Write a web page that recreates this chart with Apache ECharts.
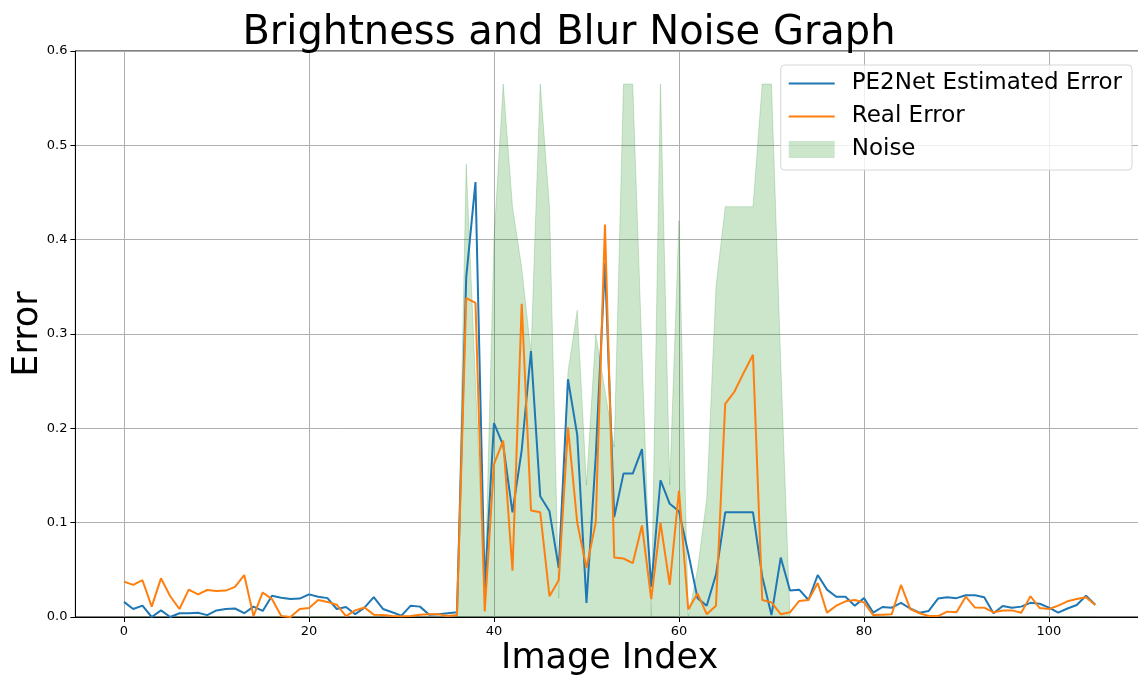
<!DOCTYPE html>
<html>
<head>
<meta charset="utf-8">
<script src="https://cdn.jsdelivr.net/npm/echarts@6/dist/echarts.min.js"></script>
<style>
  html, body { margin: 0; padding: 0; background: #fff; }
  #chart { width: 1138px; height: 680px; }
</style>
</head>
<body>
<div id="chart"></div>
<script>
// values, index 0..105
var estimatedError = [
  0.016, 0.0085, 0.012, 0.0, 0.007, 0.0, 0.004, 0.004, 0.0045, 0.002,
  0.007, 0.0085, 0.009, 0.004, 0.011, 0.0064, 0.0226, 0.0205, 0.019, 0.0195,
  0.024, 0.0215, 0.020, 0.0085, 0.0106, 0.003, 0.010, 0.021, 0.0085, 0.005,
  0.0014, 0.012, 0.011, 0.0025, 0.003, 0.004, 0.005, 0.36, 0.461, 0.03,
  0.2055, 0.182, 0.111, 0.177, 0.282, 0.128, 0.112, 0.052, 0.252, 0.193,
  0.015, 0.17, 0.375, 0.106, 0.152, 0.152, 0.178, 0.032, 0.145, 0.12,
  0.112, 0.068, 0.02, 0.012, 0.045, 0.111, 0.111, 0.111, 0.111, 0.043,
  0.002, 0.063, 0.028, 0.029, 0.018, 0.0445, 0.029, 0.0215, 0.0215, 0.012,
  0.020, 0.0046, 0.0106, 0.0099, 0.015, 0.009, 0.0046, 0.0064, 0.0195, 0.021,
  0.020, 0.023, 0.023, 0.021, 0.004, 0.0117, 0.0099, 0.011, 0.015, 0.014,
  0.010, 0.0046, 0.009, 0.0127, 0.0226, 0.013
];
var realError = [
  0.0375, 0.034, 0.039, 0.011, 0.041, 0.022, 0.0085, 0.029, 0.024, 0.0286,
  0.0276, 0.028, 0.032, 0.0445, 0.001, 0.026, 0.019, 0.001, 0.0, 0.0085,
  0.0095, 0.018, 0.016, 0.013, 0.001, 0.007, 0.010, 0.0025, 0.002, 0.001,
  0.0007, 0.001, 0.0025, 0.003, 0.003, 0.001, 0.002, 0.338, 0.333, 0.006,
  0.162, 0.187, 0.049, 0.332, 0.113, 0.111, 0.022, 0.039, 0.201, 0.10,
  0.052, 0.10, 0.416, 0.063, 0.062, 0.057, 0.097, 0.019, 0.0997, 0.034,
  0.134, 0.008, 0.025, 0.003, 0.012, 0.226, 0.239, 0.259, 0.278, 0.018,
  0.0155, 0.003, 0.005, 0.017, 0.018, 0.036, 0.0046, 0.012, 0.0166, 0.018,
  0.0155, 0.002, 0.0025, 0.003, 0.034, 0.0085, 0.004, 0.001, 0.001, 0.0057,
  0.005, 0.0215, 0.010, 0.0099, 0.005, 0.007, 0.007, 0.0046, 0.022, 0.0095,
  0.0085, 0.012, 0.0166, 0.019, 0.021, 0.0127
];
var noise = [
  0, 0, 0, 0, 0, 0, 0, 0, 0, 0,
  0, 0, 0, 0, 0, 0, 0, 0, 0, 0,
  0, 0, 0, 0, 0, 0, 0, 0, 0, 0,
  0, 0, 0, 0, 0, 0, 0, 0.48, 0.25, 0.02,
  0.40, 0.565, 0.435, 0.37, 0.28, 0.565, 0.435, 0.02, 0.26, 0.325,
  0.14, 0.30, 0.24, 0.18, 0.565, 0.565, 0.28, 0, 0.565, 0.14,
  0.42, 0, 0.05, 0.125, 0.35, 0.435, 0.435, 0.435, 0.435, 0.565,
  0.565, 0.27, 0, 0, 0, 0, 0, 0, 0, 0,
  0, 0, 0, 0, 0, 0, 0, 0, 0, 0,
  0, 0, 0, 0, 0, 0, 0, 0, 0, 0,
  0, 0, 0, 0, 0, 0
];
var xTicks = [0, 20, 40, 60, 80, 100];
var seriesNames = ['PE2Net Estimated Error', 'Real Error', 'Noise'];

function pairs(values) {
  return values.map(function (v, i) { return [i, v]; });
}

var chart = echarts.init(document.getElementById('chart'));
var font = 'DejaVu Sans';
var linePath = 'path://M0,0 L46,0 L46,2 L0,2 Z';

var option = {
  animation: false,
  backgroundColor: '#fff',
  title: {
    text: 'Brightness and Blur Noise Graph',
    left: 'center',
    top: 9,
    textStyle: { fontFamily: font, fontSize: 40, fontWeight: 'normal', color: '#000' }
  },
  legend: {
    data: [
      { name: seriesNames[0], icon: linePath },
      { name: seriesNames[1], icon: linePath },
      { name: seriesNames[2], icon: 'rect' }
    ],
    orient: 'vertical',
    right: 6,
    top: 65,
    itemWidth: 46,
    itemHeight: 17,
    itemGap: 10,
    padding: [7, 10, 9, 8],
    backgroundColor: 'rgba(255,255,255,0.8)',
    borderColor: '#d6d6d6',
    borderWidth: 1,
    borderRadius: 4,
    textStyle: { fontFamily: font, fontSize: 23, color: '#000', padding: [0, 0, 0, 12] }
  },
  grid: {
    left: 75.4,
    top: 51,
    width: 1068.4,
    height: 566,
    outerBoundsMode: 'none',
    containLabel: false,
    show: true,
    borderColor: '#000',
    borderWidth: 1,
    backgroundColor: 'transparent'
  },
  xAxis: {
    type: 'value',
    min: -5.25,
    max: 110.25,
    name: 'Image Index',
    nameLocation: 'middle',
    nameGap: 24,
    nameMoveOverlap: false,
    nameTextStyle: { fontFamily: font, fontSize: 35, color: '#000' },
    axisLine: { show: true, onZero: false, lineStyle: { color: '#000', width: 1 } },
    axisTick: { show: true, length: 5, customValues: xTicks, lineStyle: { color: '#000' } },
    axisLabel: {
      customValues: xTicks,
      fontFamily: font, fontSize: 13, color: '#000', margin: 8
    },
    splitLine: { show: true, lineStyle: { color: '#b0b0b0', width: 1 } }
  },
  yAxis: {
    type: 'value',
    min: 0,
    max: 0.6,
    interval: 0.1,
    name: 'Error',
    nameLocation: 'middle',
    nameRotate: 90,
    nameGap: 30,
    nameMoveOverlap: false,
    nameTextStyle: { fontFamily: font, fontSize: 35, color: '#000' },
    axisLine: { show: true, onZero: false, lineStyle: { color: '#000', width: 1 } },
    axisTick: { show: true, length: 5, lineStyle: { color: '#000' } },
    axisLabel: {
      fontFamily: font, fontSize: 13, color: '#000', margin: 8,
      formatter: function (v) { return v.toFixed(1); }
    },
    splitLine: { show: true, lineStyle: { color: '#b0b0b0', width: 1 } }
  },
  series: [
    {
      name: seriesNames[2],
      type: 'line',
      data: pairs(noise),
      showSymbol: false,
      symbol: 'none',
      z: 1,
      color: 'rgba(0,128,0,0.2)',
      lineStyle: { color: 'rgba(0,128,0,0.18)', width: 1 },
      areaStyle: { color: 'rgba(0,128,0,0.2)', opacity: 1 },
      itemStyle: { color: 'rgba(0,128,0,0.2)' }
    },
    {
      name: seriesNames[0],
      type: 'line',
      data: pairs(estimatedError),
      showSymbol: false,
      symbol: 'none',
      z: 3,
      color: '#1f77b4',
      lineStyle: { color: '#1f77b4', width: 2 }
    },
    {
      name: seriesNames[1],
      type: 'line',
      data: pairs(realError),
      showSymbol: false,
      symbol: 'none',
      z: 4,
      color: '#ff7f0e',
      lineStyle: { color: '#ff7f0e', width: 2 }
    }
  ]
};

chart.setOption(option);
</script>
</body>
</html>
